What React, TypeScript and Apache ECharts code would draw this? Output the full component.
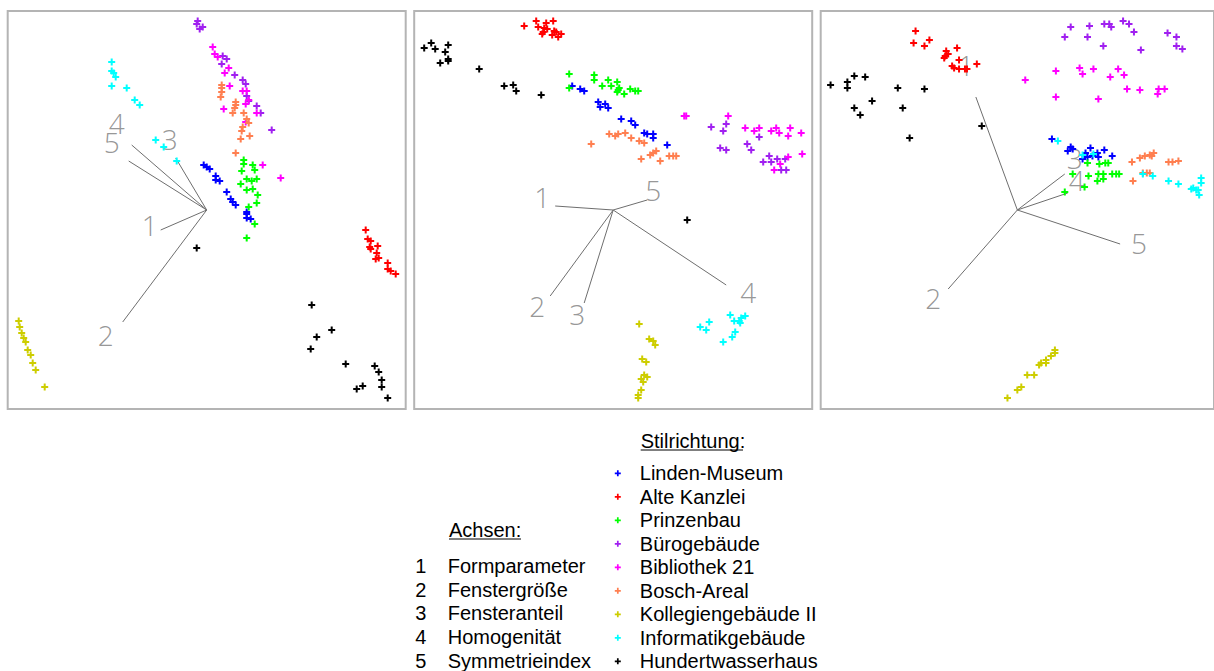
import React, { useEffect, useRef } from 'react';
import * as echarts from 'echarts';

// Categories (building styles) and colours
const buildings = ['Linden-Museum', 'Alte Kanzlei', 'Prinzenbau', 'Bürogebäude', 'Bibliothek 21', 'Bosch-Areal', 'Kollegiengebäude II', 'Informatikgebäude', 'Hundertwasserhaus'];
const buildingColors = ['#0000FF', '#FF0000', '#00FF00', '#A020F0', '#FF00FF', '#FF7F50', '#CDCD00', '#00FFFF', '#000000'];

// Biplot axes
const axisNumbers = ['1', '2', '3', '4', '5'];
const axisNames = ['Formparameter', 'Fenstergröße', 'Fensteranteil', 'Homogenität', 'Symmetrieindex'];

// Panel 1 scores
const p1Linden = [[-3,45],[0,43],[3,41],[9,34],[9,30],[13,29],[20,18],[24,11],[26,8],[29,5],[40,-2],[40,-4],[40,-8],[44,-9]];
const p1Alte = [[159,-20],[161,-29],[164,-31],[163,-37],[164,-39],[171,-36],[170,-43],[169,-49],[172,-48],[181,-53],[181,-59],[184,-61],[189,-64]];
const p1Prinzen = [[37,50],[37,46],[46,45],[48,40],[35,39],[40,31],[45,29],[50,31],[34,26],[40,20],[46,21],[51,15],[50,7],[42,3],[48,-14],[40,-28]];
const p1Buero = [[-9,189],[-10,186],[-7,181],[-4,183],[16,154],[20,151],[15,146],[28,135],[36,130],[39,126],[40,114],[42,109],[50,104],[54,97],[65,80]];
const p1Biblio = [[6,163],[8,156],[11,153],[22,142],[18,137],[23,124],[36,119],[40,119],[42,110],[39,106],[50,97],[17,101],[39,88],[56,45],[74,32]];
const p1Bosch = [[15,125],[15,122],[15,118],[14,113],[29,108],[29,105],[28,102],[26,97],[37,97],[40,91],[42,87],[36,83],[35,79],[43,74],[34,71],[29,57]];
const p1Kolleg = [[-188,-111],[-187,-117],[-185,-123],[-183,-128],[-181,-132],[-179,-140],[-176,-145],[-174,-153],[-171,-160],[-162,-177]];
const p1Inform = [[-95,148],[-95,139],[-93,137],[-91,133],[-95,124],[-80,122],[-72,110],[-67,105],[-51,70],[-43,63],[-30,49]];
const p1Hundert = [[-10,-38],[105,-95],[125,-120],[110,-127],[104,-139],[139,-154],[168,-156],[172,-162],[175,-170],[175,-177],[156,-176],[150,-179],[181,-188]];
const p1AxisEnds = [[-46,-20],[-84,-112],[-31,52],[-75,65],[-78,49]];
const p1AxisLabels = [[-57,-15],[-101,-125],[-37,71],[-90,87],[-95,68]];

// Panel 2 scores
const p2Linden = [[-41,124],[-33,121],[-29,119],[-15,108],[-13,103],[-8,106],[-5,102],[8,91],[18,89],[22,85],[31,77],[34,76],[40,76],[40,72],[54,65]];
const p2Alte = [[-89,184],[-77,189],[-75,183],[-67,187],[-60,189],[-69,182],[-66,181],[-70,178],[-71,176],[-59,179],[-57,178],[-61,175],[-55,173],[-52,176]];
const p2Prinzen = [[-44,136],[-44,122],[-19,135],[-19,130],[-5,130],[4,128],[-11,124],[-2,124],[6,122],[4,118],[5,120],[11,116],[17,121],[22,119],[25,119]];
const p2Buero = [[98,83],[113,86],[110,79],[107,62],[113,60],[134,66],[138,60],[146,73],[156,54],[164,51],[172,51],[158,48],[150,48],[168,40],[173,40]];
const p2Biblio = [[71,94],[73,94],[115,94],[132,82],[141,79],[146,82],[158,79],[163,82],[166,77],[177,82],[175,74],[188,77],[189,56],[175,53],[167,46],[161,40]];
const p2Bosch = [[-22,66],[-4,76],[2,74],[5,76],[12,77],[18,72],[26,69],[31,67],[28,51],[37,55],[40,57],[43,59],[47,49],[56,54],[60,54],[63,54]];
const p2Kolleg = [[26,-114],[36,-129],[40,-131],[42,-135],[29,-149],[33,-152],[31,-165],[34,-167],[28,-169],[30,-172],[28,-180],[25,-185],[25,-188]];
const p2Inform = [[87,-117],[96,-112],[93,-120],[117,-105],[121,-111],[126,-111],[127,-113],[132,-106],[128,-108],[122,-122],[119,-127],[110,-132]];
const p2Hundert = [[-189,162],[-182,167],[-178,161],[-168,158],[-165,165],[-173,147],[-165,149],[-165,151],[-134,141],[-109,124],[-100,125],[-97,119],[-72,115],[74,-10]];
const p2AxisEnds = [[-58,4],[-63,-86],[-29,-93],[113,-75],[34,10]];
const p2AxisLabels = [[-71,13],[-76,-96],[-36,-104],[135,-82],[40,20]];

// Panel 3 scores
const p3Linden = [[35,71],[51,59],[54,63],[56,61],[69,57],[71,53],[66,51],[74,62],[81,57],[82,53],[88,60],[96,54],[76,54]];
const p3Alte = [[-103,179],[-105,167],[-94,164],[-89,170],[-72,159],[-70,156],[-73,154],[-74,152],[-61,162],[-59,150],[-66,144],[-64,142],[-59,141],[-53,141],[-51,141],[-41,146]];
const p3Prinzen = [[71,47],[83,46],[89,47],[92,47],[56,36],[72,34],[82,36],[87,36],[81,29],[87,31],[96,36],[100,36],[103,36],[68,23],[48,18]];
const p3Buero = [[54,183],[48,173],[73,184],[71,173],[88,186],[93,186],[95,183],[87,164],[107,189],[113,186],[118,178],[125,160],[152,177],[161,173],[161,164],[167,161]];
const p3Biblio = [[8,130],[39,139],[63,142],[66,136],[77,141],[102,141],[94,133],[108,135],[39,113],[82,111],[111,121],[124,120],[143,121],[149,121],[142,116]];
const p3Bosch = [[116,48],[124,52],[129,54],[134,55],[136,54],[138,57],[153,48],[157,48],[163,49],[117,29],[127,37],[131,37],[134,37]];
const p3Kolleg = [[38,-140],[38,-143],[34,-146],[29,-150],[29,-153],[24,-153],[22,-155],[17,-165],[10,-165],[4,-177],[0,-180],[-10,-188]];
const p3Inform = [[41,69],[66,55],[77,56],[127,36],[137,34],[153,29],[163,26],[176,21],[178,22],[183,20],[181,20],[186,32],[186,27],[184,15]];
const p3Hundert = [[-189,125],[-172,128],[-172,122],[-165,134],[-154,133],[-121,122],[-94,121],[-147,109],[-165,102],[-159,95],[-116,102],[-109,72],[-36,84]];
const p3AxisEnds = [[-42,113],[-70,-79],[48,36],[51,17],[104,-34]];
const p3AxisLabels = [[-52,145],[-85,-88],[58,52],[60,30],[123,-33]];

const panels = [
  [p1Linden, p1Alte, p1Prinzen, p1Buero, p1Biblio, p1Bosch, p1Kolleg, p1Inform, p1Hundert],
  [p2Linden, p2Alte, p2Prinzen, p2Buero, p2Biblio, p2Bosch, p2Kolleg, p2Inform, p2Hundert],
  [p3Linden, p3Alte, p3Prinzen, p3Buero, p3Biblio, p3Bosch, p3Kolleg, p3Inform, p3Hundert],
];
const panelAxisEnds = [p1AxisEnds, p2AxisEnds, p3AxisEnds];
const panelAxisLabels = [p1AxisLabels, p2AxisLabels, p3AxisLabels];

const PLUS = 'path://M2.5,0h2v2.5h2.5v2h-2.5v2.5h-2v-2.5h-2.5v-2h2.5z';
const FONT = '"Liberation Sans", Arial, sans-serif';

export default function App() {
  const ref = useRef<HTMLDivElement>(null);
  useEffect(() => {
    const chart = echarts.init(ref.current!, null, { renderer: 'svg' });
    const grid = [0, 1, 2].map((i) => ({
      left: 7.7 + i * 406.5,
      top: 11,
      width: 398,
      height: 398,
      show: true,
      borderColor: '#b4b4b4',
      borderWidth: 2,
      backgroundColor: 'transparent',
    }));
    const xAxis = [0, 1, 2].map((i) => ({ type: 'value', gridIndex: i, min: -199, max: 199, show: false }));
    const yAxis = [0, 1, 2].map((i) => ({ type: 'value', gridIndex: i, min: -199, max: 199, show: false }));
    const series: any[] = [];
    panels.forEach((panel, p) => {
      series.push({
        type: 'lines',
        coordinateSystem: 'cartesian2d',
        xAxisIndex: p,
        yAxisIndex: p,
        silent: true,
        z: 2,
        lineStyle: { color: '#6e6e6e', width: 1, opacity: 1 },
        data: panelAxisEnds[p].map((e) => ({ coords: [[0, 0], e] })),
      });
      series.push({
        type: 'scatter',
        xAxisIndex: p,
        yAxisIndex: p,
        silent: true,
        z: 2,
        symbol: 'circle',
        symbolSize: 1,
        itemStyle: { color: 'rgba(0,0,0,0)' },
        label: {
          show: true,
          position: 'inside',
          formatter: '{b}',
          fontSize: 28,
          lineHeight: 20,
          fontWeight: 300,
          fontFamily: '"Open Sans", Lato, sans-serif',
          color: '#7c7c7c',
        },
        data: panelAxisLabels[p].map((pt, i) => ({ value: pt, name: axisNumbers[i] })),
      });
      panel.forEach((pts, b) => {
        series.push({
          type: 'scatter',
          name: buildings[b],
          xAxisIndex: p,
          yAxisIndex: p,
          symbol: PLUS,
          symbolSize: 7,
          silent: true,
          z: 3,
          itemStyle: { color: buildingColors[b], opacity: 1 },
          data: pts,
        });
      });
    });

    const graphic: any[] = [
      { type: 'text', x: 640.7, y: 440.5, style: { text: 'Stilrichtung:', fontSize: 20, fontFamily: FONT, fill: '#000', verticalAlign: 'middle' } },
      { type: 'line', shape: { x1: 640.7, y1: 450, x2: 743, y2: 450 }, style: { stroke: '#000', lineWidth: 1 } },
      { type: 'text', x: 449, y: 529.5, style: { text: 'Achsen:', fontSize: 20, fontFamily: FONT, fill: '#000', verticalAlign: 'middle' } },
      { type: 'line', shape: { x1: 449, y1: 539, x2: 521, y2: 539 }, style: { stroke: '#000', lineWidth: 1 } },
    ];
    axisNames.forEach((nm, i) => {
      const y = 566 + i * 23.7;
      graphic.push({ type: 'text', x: 420.7, y, style: { text: axisNumbers[i], fontSize: 20, fontFamily: FONT, fill: '#000', align: 'center', verticalAlign: 'middle' } });
      graphic.push({ type: 'text', x: 447.7, y, style: { text: nm, fontSize: 20, fontFamily: FONT, fill: '#000', verticalAlign: 'middle' } });
    });

    chart.setOption({
      animation: false,
      backgroundColor: '#ffffff',
      grid,
      xAxis,
      yAxis,
      legend: {
        data: buildings,
        orient: 'vertical',
        left: 614.8,
        top: 463.3,
        height: 260,
        padding: 0,
        itemWidth: 34,
        itemHeight: 6,
        itemGap: 3.5,
        icon: PLUS,
        symbolKeepAspect: true,
        selectedMode: false,
        textStyle: { fontSize: 20, lineHeight: 20, fontFamily: FONT, color: '#000' },
      },
      graphic,
      series,
    });
    return () => chart.dispose();
  }, []);
  return <div ref={ref} style={{ position: 'absolute', left: 0, top: 0, width: 1214, height: 671, background: '#fff' }} />;
}
